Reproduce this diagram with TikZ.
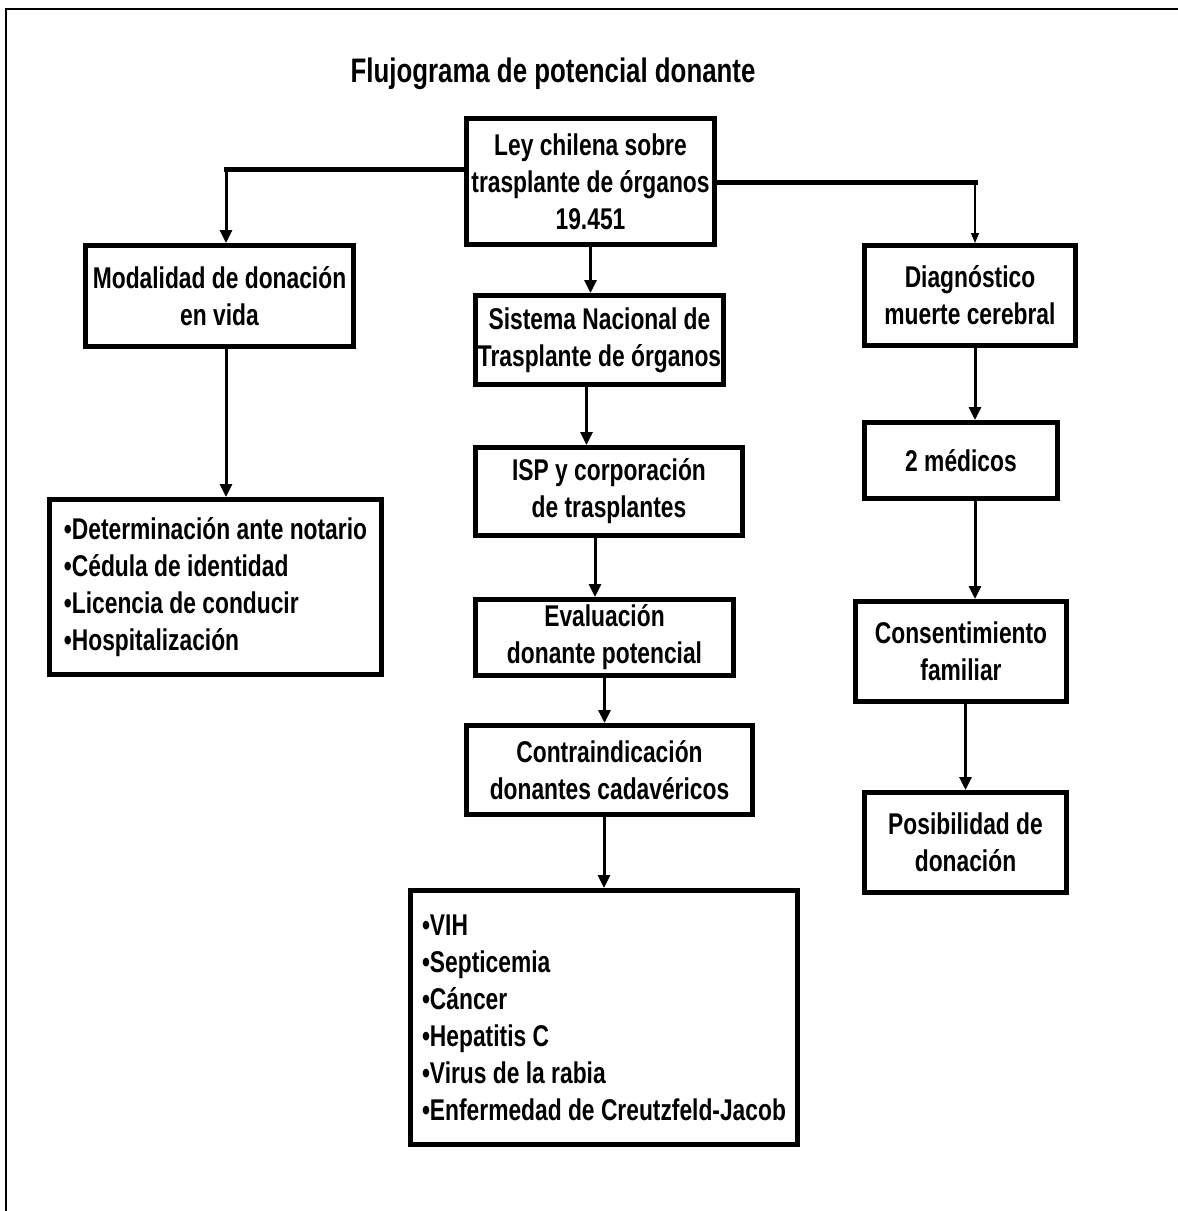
\documentclass[tikz,border=0pt]{standalone}
\usepackage{fontspec}
\setmainfont{Liberation Sans}[FakeStretch=0.76]
\usetikzlibrary{arrows.meta}

\begin{document}
\begin{tikzpicture}
  [x=1pt,y=-1pt,
   caja/.style={draw,line width=5pt,align=center,inner sep=2pt,
     font=\bfseries\fontsize{30}{37}\selectfont},
   lista/.style={caja,align=left},
   flecha/.style={line width=3pt,-{Triangle[width=12pt,length=13pt]}},
   flechita/.style={line width=1.2pt,-{Triangle[width=8pt,length=10pt]}},
   barra/.style={line width=5pt,line cap=rect}]
  \useasboundingbox (0,0) rectangle (1178,1211);
  \draw[line width=2pt] (1178,9) -- (6,9) -- (6,1211);

  \node[font=\bfseries\fontsize{34}{40}\selectfont,anchor=base] (n0) at (553,82) {Flujograma de potencial donante};

  \node[caja,minimum width=248pt,minimum height=126pt] (n1) at (590.5,181.5) {Ley chilena sobre\\trasplante de órganos\\19.451};
  \node[caja,minimum width=268pt,minimum height=101pt] (n2) at (219.5,296) {Modalidad de donación\\en vida};
  \node[lista,minimum width=332pt,minimum height=175pt] (n3) at (215.5,587) {•Determinación ante notario\\•Cédula de identidad\\•Licencia de conducir\\•Hospitalización};
  \node[caja,minimum width=248pt,minimum height=89pt] (n4) at (599.5,340) {Sistema Nacional de\\Trasplante de órganos};
  \node[caja,minimum width=267pt,minimum height=88pt] (n5) at (609,491.5) {ISP y corporación\\de trasplantes};
  \node[caja,minimum width=258pt,minimum height=76pt] (n6) at (604.5,637.5) {Evaluación\\donante potencial};
  \node[caja,minimum width=286pt,minimum height=89pt] (n7) at (609.5,770) {Contraindicación\\donantes cadavéricos};
  \node[lista,minimum width=387pt,minimum height=254pt] (n8) at (604,1017.5) {•VIH\\•Septicemia\\•Cáncer\\•Hepatitis C\\•Virus de la rabia\\•Enfermedad de Creutzfeld-Jacob};
  \node[caja,minimum width=211pt,minimum height=100pt] (n9) at (970,295.5) {Diagnóstico\\muerte cerebral};
  \node[caja,minimum width=193pt,minimum height=76pt] (n10) at (961,460.5) {2 médicos};
  \node[caja,minimum width=211pt,minimum height=100pt] (n11) at (961,651.5) {Consentimiento\\familiar};
  \node[caja,minimum width=202pt,minimum height=100pt] (n12) at (965.5,842.5) {Posibilidad de\\donación};

  \coordinate (c1) at (226,169);
  \coordinate (c2) at (975,182);

  \draw[barra] (n1.west |- c1) -- (c1);
  \draw[flecha] (c1) -- (n2.north -| c1);
  \draw[barra] (n1.east |- c2) -- (c2);
  \draw[flechita] (c2) -- (n9.north -| c2);
  \draw[flecha] (n2.south -| c1) -- (n3.north -| c1);
  \draw[flecha] (n1.south) -- (n1.south |- n4.north);
  \draw[flecha] ([xshift=-13pt]n4.south) -- ([xshift=-13pt]n4.south |- n5.north);
  \draw[flecha] ([xshift=-14pt]n5.south) -- ([xshift=-14pt]n5.south |- n6.north);
  \draw[flecha] (n6.south) -- (n6.south |- n7.north);
  \draw[flecha] (n7.south -| n8.north) -- (n8.north);
  \draw[flecha] (n9.south -| c2) -- (n10.north -| c2);
  \draw[flecha] (n10.south -| c2) -- (n11.north -| c2);
  \draw[flecha] (n11.south -| n12.north) -- (n12.north);

\end{tikzpicture}
\end{document}
